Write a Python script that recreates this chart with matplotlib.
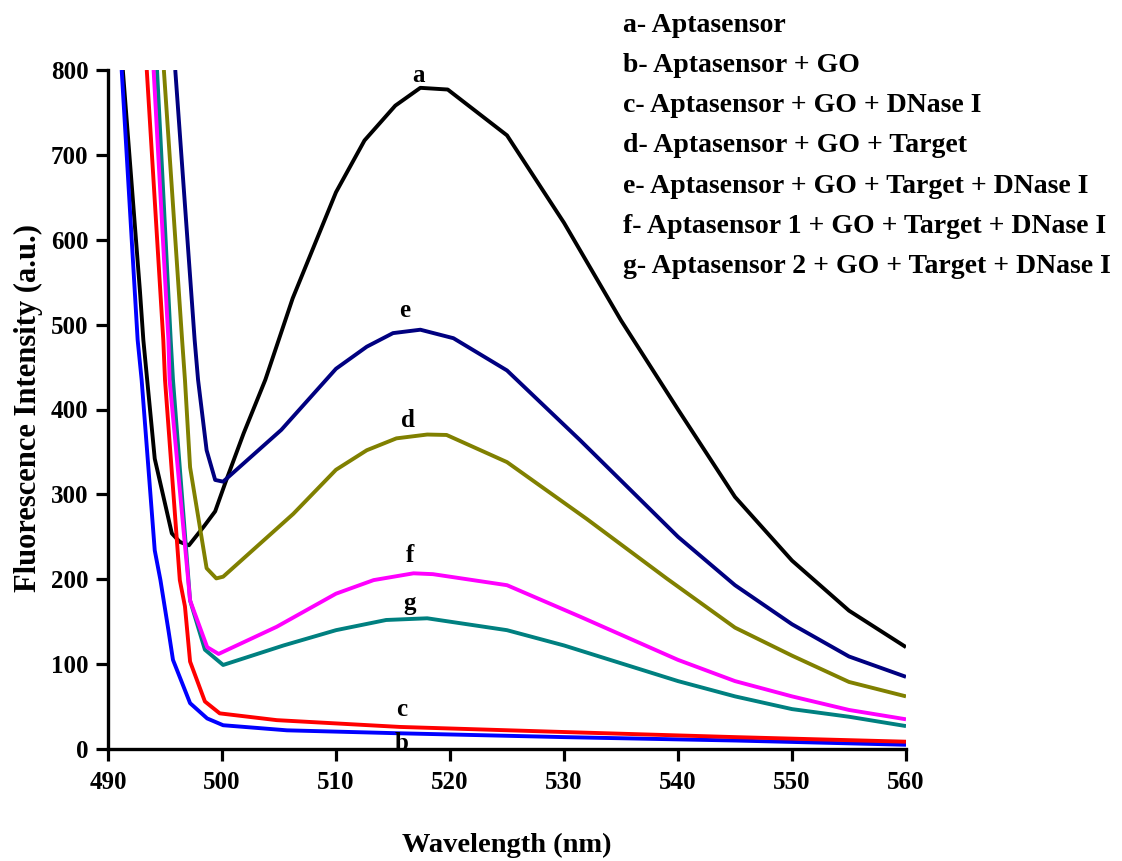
import matplotlib
matplotlib.use("Agg")
import matplotlib.pyplot as plt

plt.rcParams["font.family"] = ["Liberation Serif", "DejaVu Serif"]
plt.rcParams["font.weight"] = "bold"

# Emission spectra, wavelength (nm) vs intensity (a.u.)
wl_a = [491.3, 492.8, 493.1, 494.1, 495.6, 496.3, 497.1, 498.4, 499.4, 500.3, 501.9,
        503.8, 506.2, 510.0, 512.5, 515.2, 517.4, 519.8, 525.0, 530.0, 535.0, 540.0,
        545.0, 550.0, 555.0, 560.0]
int_a = [800, 540, 482, 342, 254, 244, 240, 262, 280, 314, 372,
         435, 531, 656, 717, 758, 779, 777, 723, 620, 505, 400,
         297, 222, 163, 120]

wl_b = [491.2, 492.6, 492.95, 494.1, 494.6, 495.3, 495.7, 497.2, 498.7, 500.1,
        505.7, 515.6, 530.0, 545.0, 560.0]
int_b = [800, 482, 435, 234, 199, 140, 105, 54, 36, 28,
         22, 18.5, 14, 10, 5]

wl_c = [493.4, 494.85, 495.0, 496.3, 496.75, 497.2, 498.5, 499.8, 504.8, 515.6,
        530.0, 545.0, 560.0]
int_c = [800, 482, 435, 199, 168, 103, 56, 42, 34, 26,
         20, 14, 8.6]

wl_d = [494.9, 496.5, 496.75, 497.2, 498.65, 499.5, 500.1, 506.25, 510.0, 512.7,
        515.3, 518.0, 519.7, 525.0, 532.0, 539.0, 545.0, 550.0, 555.0, 560.0]
int_d = [800, 482, 435, 332, 213, 201, 203, 277, 329, 352,
         366, 370.5, 370, 338, 271, 201, 143, 110, 79, 62]

wl_e = [495.9, 497.6, 497.9, 498.65, 499.4, 500.1, 505.2, 510.0, 512.7, 515.0,
        517.4, 520.3, 525.0, 531.4, 540.0, 545.0, 550.0, 555.0, 560.0]
int_e = [800, 482, 435, 352, 317, 315, 376, 448, 474, 490,
         494, 484, 446, 364, 250, 193, 147, 109, 85]

wl_f = [494.0, 495.3, 495.4, 497.2, 498.7, 499.7, 504.8, 510.0, 513.3, 516.8,
        518.5, 525.0, 531.4, 540.0, 545.0, 550.0, 555.0, 560.0]
int_f = [800, 482, 435, 175, 120, 112, 144, 183, 199, 207,
         206, 193, 156, 105, 80, 62, 46, 35]

wl_g = [494.3, 495.5, 495.7, 497.2, 498.5, 500.1, 505.4, 510.0, 514.4, 518.0,
        525.0, 530.0, 540.0, 545.0, 550.0, 555.0, 560.0]
int_g = [800, 482, 435, 175, 117, 99, 122, 140, 152, 154,
         140, 122, 80, 62, 47, 38, 27]

curve_letters = ["a", "b", "c", "d", "e", "g", "f"]
curve_colors = {"a": "#000000", "b": "#0000ff", "c": "#ff0000", "d": "#808000",
                "e": "#000080", "f": "#ff00ff", "g": "#008080"}
curve_data = {"a": (wl_a, int_a), "b": (wl_b, int_b), "c": (wl_c, int_c),
              "d": (wl_d, int_d), "e": (wl_e, int_e), "f": (wl_f, int_f),
              "g": (wl_g, int_g)}

# letter tags placed next to each curve
tag_pos = {"a": (517.2, 794), "b": (515.75, 6), "c": (515.75, 47), "d": (516.35, 387),
           "e": (516.05, 517), "f": (516.5, 228), "g": (516.5, 171)}

legend_lines = [
    "a- Aptasensor",
    "b- Aptasensor + GO",
    "c- Aptasensor + GO + DNase I",
    "d- Aptasensor + GO + Target",
    "e- Aptasensor + GO + Target + DNase I",
    "f- Aptasensor 1 + GO + Target + DNase I",
    "g- Aptasensor 2 + GO + Target + DNase I",
]

W, H = 1122, 861
fig = plt.figure(figsize=(W / 100, H / 100), dpi=100)
ax = fig.add_axes([108 / W, 1 - 749 / H, 798 / W, 679 / H])

for key in curve_letters:
    x, y = curve_data[key]
    ax.plot(x, y, color=curve_colors[key], lw=2.8, solid_capstyle="butt",
            solid_joinstyle="round")

for key, (tx, ty) in tag_pos.items():
    ax.text(tx, ty, key, fontsize=18, fontweight="bold", ha="center", va="center")

ax.set_xlim(490, 560)
ax.set_ylim(0, 800)
ax.set_xticks(range(490, 561, 10))
ax.set_yticks(range(0, 801, 100))

for side in ("top", "right"):
    ax.spines[side].set_visible(False)
for side in ("left", "bottom"):
    ax.spines[side].set_linewidth(2.4)

ax.tick_params(direction="out", length=8.6, width=2.3, labelsize=18)
ax.tick_params(axis="x", pad=7.5)
ax.tick_params(axis="y", pad=5.5)
for lab in ax.get_xticklabels() + ax.get_yticklabels():
    lab.set_fontweight("bold")

ax.set_xlabel("Wavelength (nm)", fontsize=20.5, fontweight="bold")
ax.set_ylabel("Fluorescence Intensity (a.u.)", fontsize=22, fontweight="bold")
ax.xaxis.set_label_coords(0.5, (749 - 833) / 679)
ax.yaxis.set_label_coords((43 - 108) / 798, (749 - 408) / 679)

for i, line in enumerate(legend_lines):
    yc = 25 + i * 40.3
    fig.text(623 / W, 1 - yc / H, line, fontsize=20, fontweight="bold",
             ha="left", va="center")

fig.savefig("out.png", dpi=100)
